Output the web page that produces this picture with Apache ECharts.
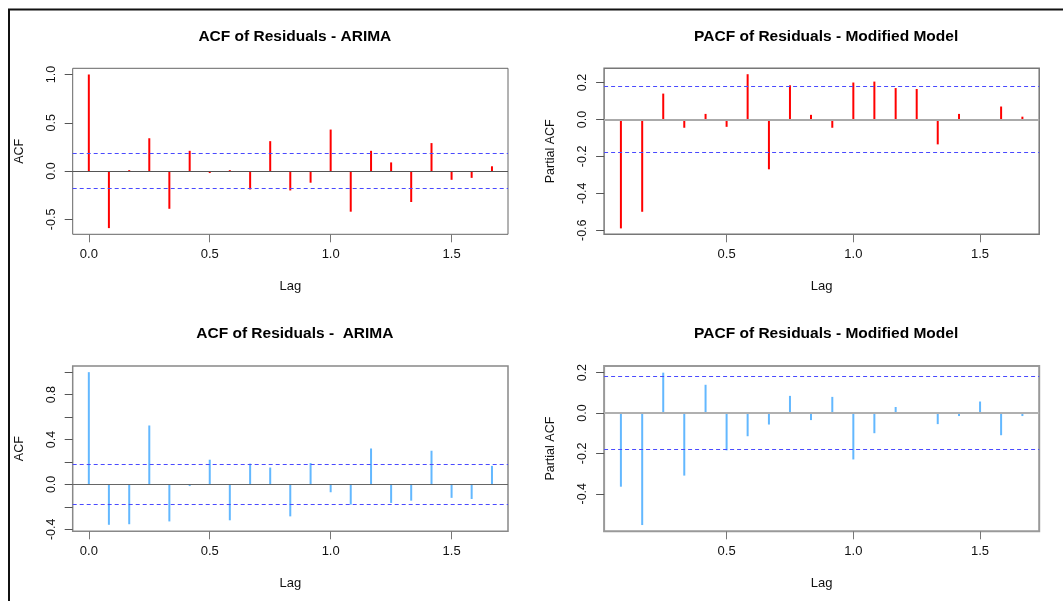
<!DOCTYPE html>
<html>
<head>
<meta charset="utf-8">
<title>ACF / PACF of Residuals</title>
<script src="https://cdn.jsdelivr.net/npm/echarts@6/dist/echarts.min.js"></script>
<style>
  html, body { margin: 0; padding: 0; background: #fff; }
  #main { width: 1063px; height: 601px; }
</style>
</head>
<body>
<div id="main"></div>
<script>
// lags in years (monthly series, lag k = k/12)
var acfLags = [0.000, 0.083, 0.167, 0.250, 0.333, 0.417, 0.500, 0.583, 0.667, 0.750, 0.833,
               0.917, 1.000, 1.083, 1.167, 1.250, 1.333, 1.417, 1.500, 1.583, 1.667];
var pacfLags = [0.083, 0.167, 0.250, 0.333, 0.417, 0.500, 0.583, 0.667, 0.750, 0.833,
                0.917, 1.000, 1.083, 1.167, 1.250, 1.333, 1.417, 1.500, 1.583, 1.667];

// top row: ARIMA residuals / modified model (red)
var acfArima = [1.00, -0.59, 0.01, 0.34, -0.39, 0.21, -0.02, 0.01, -0.19, 0.31, -0.20,
                -0.12, 0.43, -0.42, 0.21, 0.09, -0.32, 0.29, -0.09, -0.07, 0.05];
var pacfModified = [-0.59, -0.50, 0.14, -0.045, 0.03, -0.04, 0.245, -0.27, 0.185, 0.025,
                    -0.045, 0.20, 0.205, 0.17, 0.165, -0.135, 0.03, -0.003, 0.07, 0.015];

// bottom row (blue)
var acfArima2 = [1.00, -0.36, -0.355, 0.525, -0.33, -0.015, 0.22, -0.32, 0.185, 0.15, -0.285,
                 0.19, -0.07, -0.18, 0.32, -0.165, -0.145, 0.30, -0.12, -0.13, 0.165];
var pacfModified2 = [-0.365, -0.555, 0.20, -0.31, 0.14, -0.185, -0.115, -0.057, 0.085, -0.035,
                     0.08, -0.23, -0.10, 0.03, -0.003, -0.055, -0.015, 0.057, -0.11, -0.015];

// 95% bounds, 1.96/sqrt(n)
var ciBound = 0.179;

var titles = ['ACF of Residuals - ARIMA', 'PACF of Residuals - Modified Model',
              'ACF of Residuals -  ARIMA', 'PACF of Residuals - Modified Model'];
var yNames = ['ACF', 'Partial ACF', 'ACF', 'Partial ACF'];

// tick positions (R pretty())
var xTicksAcf = [0, 0.5, 1, 1.5];
var xTicksPacf = [0.5, 1, 1.5];
var yTicks1 = [-0.5, 0, 0.5, 1];
var yTicks2 = [-0.6, -0.4, -0.2, 0, 0.2];
var yTicks3 = [-0.4, -0.2, 0, 0.2, 0.4, 0.6, 0.8, 1.0];
var yLabels3 = [-0.4, 0, 0.4, 0.8];
var yTicks4 = [-0.4, -0.2, 0, 0.2];

var FONT = '"Liberation Sans", Arial, sans-serif';
var RED = '#ff0000';
var BLUE = '#63b8ff';

var panels = [
    { left: 72.7, top: 68.3, width: 435.3, height: 166, xMin: -0.0667, xMax: 1.7333, yMin: -0.654, yMax: 1.064,
      xTicks: xTicksAcf, yTicks: yTicks1, yLabels: yTicks1, lags: acfLags, vals: acfArima, color: RED,
      box: '#666', boxW: 1, zero: '#555', zeroW: 1 },
    { left: 604.1, top: 68.3, width: 435.1, height: 166, xMin: 0.0167, xMax: 1.7333, yMin: -0.622, yMax: 0.277,
      xTicks: xTicksPacf, yTicks: yTicks2, yLabels: yTicks2, lags: pacfLags, vals: pacfModified, color: RED,
      box: '#777', boxW: 1.5, zero: '#aaa', zeroW: 2 },
    { left: 72.7, top: 366, width: 435.3, height: 165.3, xMin: -0.0667, xMax: 1.7333, yMin: -0.418, yMax: 1.055,
      xTicks: xTicksAcf, yTicks: yTicks3, yLabels: yLabels3, lags: acfLags, vals: acfArima2, color: BLUE,
      box: '#888', boxW: 1.5, zero: '#666', zeroW: 1 },
    { left: 604.1, top: 366, width: 435.1, height: 165.3, xMin: 0.0167, xMax: 1.7333, yMin: -0.586, yMax: 0.233,
      xTicks: xTicksPacf, yTicks: yTicks4, yLabels: yTicks4, lags: pacfLags, vals: pacfModified2, color: BLUE,
      box: '#999', boxW: 2, zero: '#b0b0b0', zeroW: 2 }
];

function fmt(v) {
    return v.toFixed(1);
}

var option = {
    animation: false,
    backgroundColor: '#fff',
    title: [],
    grid: [],
    xAxis: [],
    yAxis: [],
    series: [],
    graphic: [
        // outer frame of the screenshot
        { type: 'line', shape: { x1: 8, y1: 9.5, x2: 1063, y2: 9.5 }, style: { stroke: '#111', lineWidth: 2 } },
        { type: 'line', shape: { x1: 9, y1: 9, x2: 9, y2: 601 }, style: { stroke: '#111', lineWidth: 2 } }
    ]
};

panels.forEach(function(p, i) {
    option.title.push({
        text: titles[i],
        left: p.left + p.width / 2 - 0.5,
        top: p.top - 45,
        textAlign: 'center',
        textStyle: { fontFamily: FONT, fontSize: 15.5, fontWeight: 'bold', color: '#000' }
    });
    option.grid.push({
        left: p.left, top: p.top, width: p.width, height: p.height,
        show: true, borderColor: p.box, borderWidth: p.boxW,
        backgroundColor: 'transparent',
        outerBoundsMode: 'none'
    });
    option.xAxis.push({
        type: 'value', gridIndex: i, min: p.xMin, max: p.xMax,
        name: 'Lag', nameLocation: 'middle', nameGap: 46,
        nameTextStyle: { fontFamily: FONT, fontSize: 13, color: '#111' },
        axisLine: { show: false, onZero: false },
        splitLine: { show: false },
        axisTick: { show: true, inside: false, length: 8, customValues: p.xTicks,
                    lineStyle: { color: '#777', width: 1 } },
        axisLabel: { show: true, margin: 14, customValues: p.xTicks, formatter: fmt,
                     fontFamily: FONT, fontSize: 13, color: '#111' }
    });
    option.yAxis.push({
        type: 'value', gridIndex: i, min: p.yMin, max: p.yMax,
        name: yNames[i], nameLocation: 'middle', nameGap: 47,
        nameTextStyle: { fontFamily: FONT, fontSize: 12.5, color: '#111' },
        axisLine: { show: false, onZero: false },
        splitLine: { show: false },
        axisTick: { show: true, inside: false, length: 8, customValues: p.yTicks,
                    lineStyle: { color: '#555', width: 1 } },
        axisLabel: { show: true, rotate: 90, margin: 15, customValues: p.yLabels, formatter: fmt,
                     fontFamily: FONT, fontSize: 12.5, color: '#111' }
    });
    option.series.push({
        type: 'bar',
        xAxisIndex: i, yAxisIndex: i,
        barWidth: 2,
        itemStyle: { color: p.color },
        data: p.lags.map(function(x, k) { return [x, p.vals[k]]; }),
        markLine: {
            silent: true,
            symbol: ['none', 'none'],
            label: { show: false },
            data: [
                { yAxis: 0, lineStyle: { color: p.zero, width: p.zeroW, type: 'solid' } },
                { yAxis: ciBound, lineStyle: { color: '#4a4aff', width: 1, type: [4, 3] } },
                { yAxis: -ciBound, lineStyle: { color: '#4a4aff', width: 1, type: [4, 3] } }
            ]
        }
    });
});

var chart = echarts.init(document.getElementById('main'), null, { renderer: 'canvas' });
chart.setOption(option);
</script>
</body>
</html>
